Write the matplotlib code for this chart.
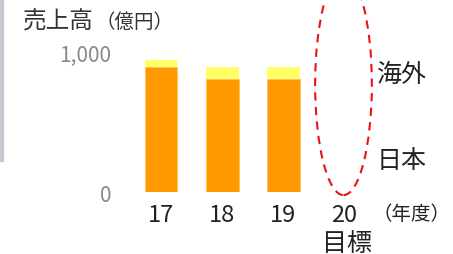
import matplotlib
matplotlib.use("Agg")
import matplotlib.pyplot as plt
from matplotlib.patches import Ellipse
from matplotlib.lines import Line2D

plt.rcParams['font.family'] = ['Noto Sans CJK JP', 'DejaVu Sans']

# data (億円)
years = ["17", "18", "19", "20"]
domestic = [890, 810, 810, 0]
overseas = [55, 85, 85, 0]
yticks = [0, 1000]
yticklabels = ["0", "1,000"]
target_idx = years.index("20")

ORANGE = "#ff9900"
YELLOW = "#ffff66"

fig = plt.figure(figsize=(4.53, 2.55), dpi=100)
ax = fig.add_axes([0.288, 0.243, 0.539, 0.549])

x = range(len(years))
ax.bar(x, domestic, width=0.54, color=ORANGE, edgecolor="#ffc060", linewidth=0.6)
ax.bar(x, overseas, width=0.54, bottom=domestic, color=YELLOW, linewidth=0)

ax.set_xlim(-0.5, 3.5)
ax.set_ylim(0, 1000)
ax.set_xticks(list(x))
ax.set_xticklabels(years, fontsize=17, color="#222222")
ax.set_yticks(yticks)
ax.set_yticklabels(yticklabels, fontsize=15, color="#8a8a8a")
ax.tick_params(axis="x", length=0, pad=8)
ax.tick_params(axis="y", length=0, pad=14)
for s in ax.spines.values():
    s.set_visible(False)

# dashed ring around the target year
ell = Ellipse((target_idx - 0.01, 768), width=0.93, height=1580, fill=False,
              edgecolor="#ee1111", linestyle=(0, (4, 3)), linewidth=1.5,
              clip_on=False)
ax.add_patch(ell)

# labels
fig.text(0.05, 0.915, "売上高", fontsize=17, color="#333333", va="center")
fig.text(0.21, 0.912, "（億円）", fontsize=14, color="#333333", va="center")
fig.text(0.831, 0.705, "海外", fontsize=18, color="#222222", va="center")
fig.text(0.831, 0.37, "日本", fontsize=18, color="#222222", va="center")
fig.text(0.822, 0.16, "（年度）", fontsize=14, color="#222222", va="center")
fig.text(0.766, 0.045, "目標", fontsize=18, color="#222222", va="center",
         ha="center")

# grey border at left edge
fig.add_artist(Line2D([0.004, 0.004], [1.0, 0.37], transform=fig.transFigure,
                      color="#c8c8d0", linewidth=3))

fig.savefig("out.png", dpi=100, facecolor="white")
